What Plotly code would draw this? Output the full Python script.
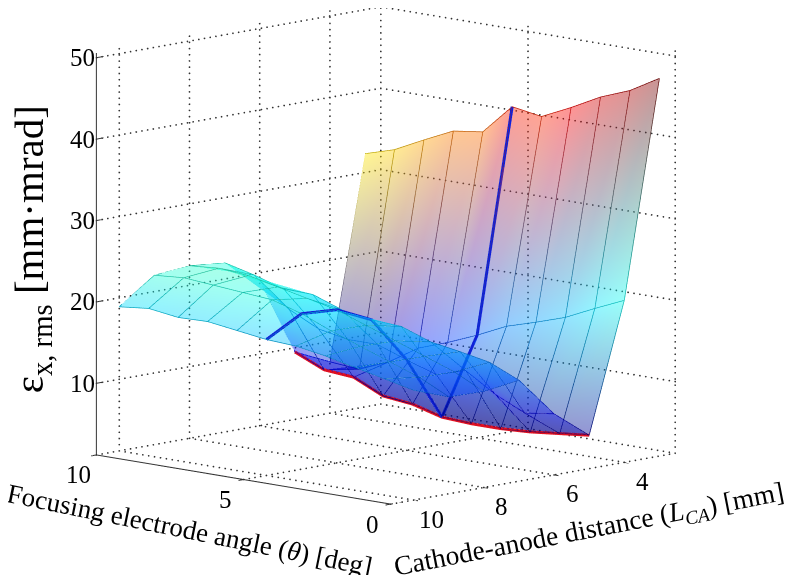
import plotly.graph_objects as go

theta = [0, 1, 2, 3, 4, 5, 6, 7, 8, 9, 10]
dist = [3, 4, 5, 6, 7, 8, 9, 10]

# emittance, one list per cathode-anode distance, theta 0..10
emit_3 = [47.6, 45.5, 44.1, 42.2, 40.5, 41.1, 37.4, 36.9, 35.2, 33.4, 32.3]
emit_4 = [21.1, 19.5, 17.8, 16.6, 15.5, 13.8, 12.3, 11.0, 8.7, 7.2, 7.5]
emit_5 = [5.3, 4.9, 4.5, 4.3, 4.3, 4.5, 5.5, 5.9, 7.6, 7.9, 9.5]
emit_6 = [8.7, 8.2, 9.9, 12.2, 11.1, 12.3, 13.6, 13.6, 14.3, 16.1, 19.1]
emit_7 = [13.6, 15.2, 15.9, 16.5, 17.8, 18.0, 18.6, 19.9, 20.0, 21.1, 22.0]
emit_8 = [13.0, 14.8, 16.1, 17.4, 18.7, 20.0, 20.8, 21.6, 22.4, 22.7, 22.4]
emit_9 = [13.1, 14.9, 16.2, 17.5, 18.8, 20.3, 21.4, 21.7, 22.0, 22.3, 22.0]
emit_10 = [14.7, 15.5, 16.3, 17.1, 17.7, 17.9, 18.4, 18.9, 18.8, 19.3, 18.9]
emit = [emit_3, emit_4, emit_5, emit_6, emit_7, emit_8, emit_9, emit_10]

theta_ticks = [0, 5, 10]
dist_ticks = [4, 6, 8, 10]
emit_ticks = [10, 20, 30, 40, 50]
theta_range = [0, 10]
dist_range = [2.55, 10.65]
emit_range = [1.2, 50.6]


def jet(v, vmin=4.3, vmax=47.6, shade=1.0):
    t = (v - vmin) / (vmax - vmin)
    r = min(max(min(4 * t - 1.5, -4 * t + 4.5), 0), 1)
    g = min(max(min(4 * t - 0.5, -4 * t + 3.5), 0), 1)
    b = min(max(min(4 * t + 0.5, -4 * t + 2.5), 0), 1)
    return "rgb(%d,%d,%d)" % (r * 255 * shade, g * 255 * shade, b * 255 * shade)


fig = go.Figure()

xs, ys, zs, cols, ii, jj, kk = [], [], [], [], [], [], []
for r, d in enumerate(dist):
    for c, t in enumerate(theta):
        xs.append(t)
        ys.append(d)
        zs.append(emit[r][c])
        cols.append(jet(emit[r][c]))
n = len(theta)
for r in range(len(dist) - 1):
    for c in range(n - 1):
        a = r * n + c
        ii += [a, a]
        jj += [a + 1, a + n + 1]
        kk += [a + n + 1, a + n]

fig.add_trace(go.Mesh3d(
    x=xs, y=ys, z=zs, i=ii, j=jj, k=kk,
    vertexcolor=cols,
    opacity=0.42,
    lighting=dict(ambient=1, diffuse=0, specular=0, roughness=1, fresnel=0),
    hoverinfo="skip",
))


def line3d(x, y, z, color="#333333", width=2):
    fig.add_trace(go.Scatter3d(
        x=x, y=y, z=z, mode="lines",
        line=dict(color=color, width=width),
        showlegend=False, hoverinfo="skip",
    ))


# the dotted grid is drawn as real dots, gl dashes come out uneven
dot_x, dot_y, dot_z = [], [], []


def dotted(x, y, z, steps):
    for s in range(steps + 1):
        f = s / steps
        dot_x.append(x[0] + (x[1] - x[0]) * f)
        dot_y.append(y[0] + (y[1] - y[0]) * f)
        dot_z.append(z[0] + (z[1] - z[0]) * f)


for t in theta_ticks:
    dotted([t, t], dist_range, [emit_range[0]] * 2, 50)
    dotted([t, t], [dist_range[0]] * 2, emit_range, 65)
for d in dist_ticks + [dist_range[0]]:
    dotted(theta_range, [d, d], [emit_range[0]] * 2, 50)
    dotted([theta_range[1]] * 2, [d, d], emit_range, 65)
for v in emit_ticks:
    dotted([theta_range[1]] * 2, dist_range, [v, v], 50)
    dotted(theta_range, [dist_range[0]] * 2, [v, v], 50)

fig.add_trace(go.Scatter3d(
    x=dot_x, y=dot_y, z=dot_z, mode="markers",
    marker=dict(size=1, color="#333333", line=dict(width=0)),
    showlegend=False, hoverinfo="skip",
))

# solid axis lines and their tick marks
line3d([theta_range[1]] * 2, [dist_range[1]] * 2, emit_range)
line3d(theta_range, [dist_range[1]] * 2, [emit_range[0]] * 2)
line3d([theta_range[0]] * 2, dist_range, [emit_range[0]] * 2)
for v in emit_ticks:
    line3d([theta_range[1]] * 2, [dist_range[1], dist_range[1] - 0.2], [v, v])
for t in theta_ticks:
    line3d([t, t], [dist_range[1], dist_range[1] + 0.15], [emit_range[0]] * 2)
for d in dist_ticks:
    line3d([0, -0.15], [d, d], [emit_range[0]] * 2)

# mesh lines, vertex coloured
for r, d in enumerate(dist):
    line3d(theta, [d] * n, emit[r], color=[jet(v, shade=0.75) for v in emit[r]], width=1.5)
for c, t in enumerate(theta):
    col = [row[c] for row in emit]
    line3d([t] * len(dist), dist, col, color=[jet(v, shade=0.75) for v in col], width=1.5)

# highlighted cuts
line3d(theta, [5] * n, emit_5, color="#e01020", width=6)
line3d([5] * len(dist), dist, [row[5] for row in emit], color="#1020d8", width=6)

# tick labels as scene annotations, they stay flat on the screen
tick_font = dict(family="Liberation Serif", size=25, color="black")
labels = []
for t in theta_ticks:
    labels.append(dict(x=t, y=dist_range[1], z=emit_range[0], text=str(t), showarrow=False,
                       font=tick_font, xshift=-18, yshift=-20))
for d in dist_ticks:
    labels.append(dict(x=theta_range[0], y=d, z=emit_range[0], text=str(d), showarrow=False,
                       font=tick_font, xshift=18, yshift=-19))
for v in emit_ticks:
    labels.append(dict(x=theta_range[1], y=dist_range[1], z=v, text=str(v), showarrow=False,
                       font=tick_font, xshift=-14, yshift=0))

axis_common = dict(
    showgrid=False, zeroline=False, showbackground=False, showline=False,
    showspikes=False, ticks="", showticklabels=False, title=dict(text=""),
)

fig.update_layout(
    width=793, height=575,
    margin=dict(l=0, r=0, t=0, b=0),
    paper_bgcolor="white",
    showlegend=False,
    scene=dict(
        domain=dict(x=[0, 1], y=[0, 1]),
        xaxis=dict(range=[-0.15, 10], **axis_common),
        yaxis=dict(range=[dist_range[0], dist_range[1] + 0.15], **axis_common),
        zaxis=dict(range=emit_range, **axis_common),
        aspectmode="manual",
        aspectratio=dict(x=1.445, y=1.45, z=1.42),
        camera=dict(
            eye=dict(x=-1.417, y=1.371, z=0.199),
            center=dict(x=-0.048, y=-0.046, z=-0.147),
            up=dict(x=0, y=0, z=1),
            projection=dict(type="orthographic"),
        ),
        annotations=labels,
    ),
    annotations=[
        dict(text="ε<sub>x, rms</sub> [mm·mrad]", x=0.03, y=0.58, xref="paper", yref="paper",
             xanchor="center", yanchor="middle",
             showarrow=False, textangle=-90, font=dict(family="Liberation Serif", size=41, color="black")),
        dict(text="Focusing electrode angle (<i>θ</i>) [deg]", x=0.229, y=0.093, xref="paper", yref="paper",
             xanchor="center", yanchor="middle",
             showarrow=False, textangle=11.5, font=dict(family="Liberation Serif", size=27, color="black")),
        dict(text="Cathode-anode distance (<i>L<sub>CA</sub></i>) [mm]", x=0.733, y=0.091, xref="paper", yref="paper",
             xanchor="center", yanchor="middle",
             showarrow=False, textangle=-11, font=dict(family="Liberation Serif", size=27.5, color="black")),
    ],
)

fig.write_html("out.html")
